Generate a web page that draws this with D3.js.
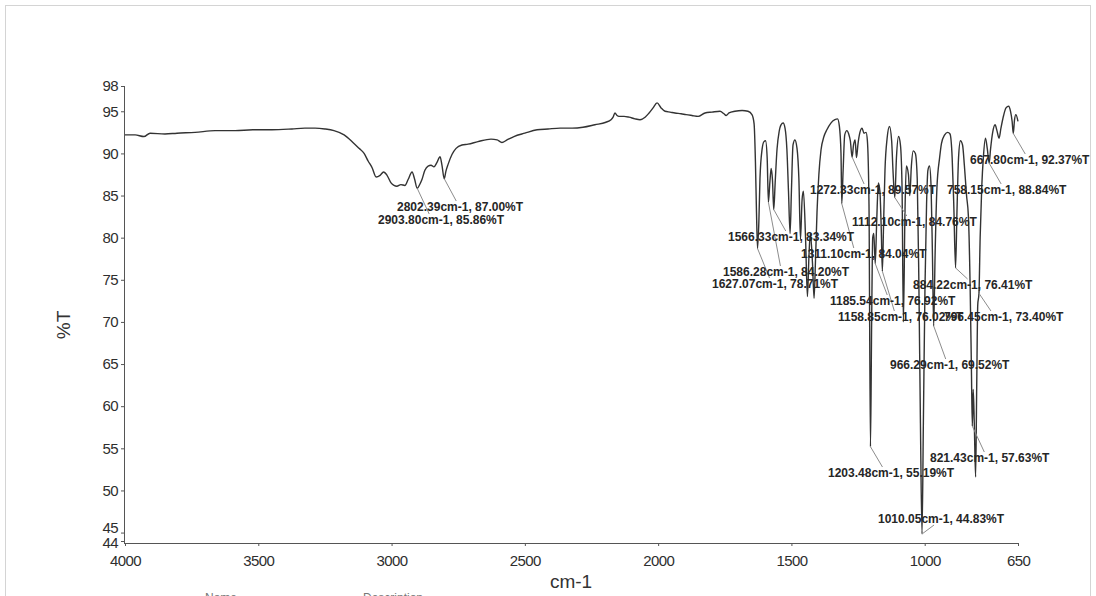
<!DOCTYPE html>
<html>
<head>
<meta charset="utf-8">
<script src="https://cdn.jsdelivr.net/npm/d3@7"></script>
<style>
  html, body { margin: 0; padding: 0; background: #fff; }
  svg { display: block; font-family: "Liberation Sans", Arial, sans-serif; }
</style>
</head>
<body>
<svg id="chart" width="1096" height="596"></svg>
<script>
// Peak-picked bands: wavenumber (cm-1) and transmittance (%T)
const peakWn = [2903.80, 2802.39, 1627.07, 1586.28, 1566.33, 1311.10, 1272.33, 1203.48, 1185.54,
                1158.85, 1112.10, 1010.05, 966.29, 884.22, 821.43, 796.45, 758.15, 667.80];
const peakT  = [85.86, 87.00, 78.71, 84.20, 83.34, 84.04, 89.57, 55.19, 76.92,
                76.02, 84.76, 44.83, 69.52, 76.41, 57.63, 73.40, 88.84, 92.37];

// Spectrum trace, 4000–1650 cm-1: [wavenumber, %T]
const spectrumHigh = [
  [4000,92.2],[3962,92.2],[3929,92.0],[3906,92.4],[3850,92.3],[3805,92.4],[3737,92.5],[3662,92.7],
  [3587,92.7],[3520,92.8],[3449,92.8],[3374,92.9],[3325,93.0],[3287,93.0],[3250,92.9],[3216,92.7],
  [3178,92.2],[3145,91.3],[3122,90.6],[3103,90.0],[3088,89.1],[3073,88.3],[3058,87.2],[3043,87.4],
  [3030,87.8],[3017,87.4],[3002,86.5],[2991,86.2],[2980,86.1],[2965,86.3],[2950,86.2],[2938,86.9],
  [2923,87.8],[2914,87.0],[2893,86.4],[2886,86.9],[2875,88.0],[2863,88.5],[2852,88.6],[2841,88.4],
  [2830,88.9],[2818,89.6],[2811,88.6],[2796,87.9],[2788,88.7],[2773,89.9],[2758,90.6],[2736,91.0],
  [2713,91.1],[2676,91.4],[2627,91.7],[2604,91.6],[2586,91.3],[2567,91.6],[2541,92.0],[2500,92.4],
  [2454,92.8],[2413,92.9],[2368,93.0],[2323,93.0],[2282,93.1],[2237,93.4],[2196,93.7],[2177,94.0],
  [2169,94.3],[2162,94.8],[2154,94.5],[2147,94.4],[2128,94.4],[2109,94.3],[2087,94.1],[2068,94.0],
  [2049,94.3],[2034,94.8],[2019,95.4],[2004,96.0],[1989,95.4],[1974,95.0],[1955,94.9],[1937,94.8],
  [1914,94.7],[1895,94.6],[1873,94.5],[1850,94.4],[1824,94.8],[1798,94.9],[1768,95.0],[1753,94.7],
  [1745,94.5],[1734,94.8],[1712,95.0],[1685,95.1],[1663,95.0],[1648,94.6]
];

// Spectrum trace, fingerprint region 1640–650 cm-1: [wavenumber, %T]
const spectrumLow = [
  [1640,93.5],[1635,89.0],[1631,83.0],[1622,82.0],[1618,87.0],[1610,90.5],[1603,91.4],[1597,91.5],
  [1591,89.5],[1581,86.5],[1576,88.2],[1571,86.8],[1561,86.5],[1554,90.5],[1546,92.6],[1539,93.4],
  [1531,93.6],[1524,93.0],[1517,90.5],[1511,85.5],[1505,80.5],[1500,85.5],[1494,91.0],[1487,91.6],
  [1479,90.6],[1472,87.0],[1466,79.8],[1460,84.5],[1455,85.5],[1447,80.0],[1440,73.0],[1434,78.0],
  [1429,80.5],[1421,77.0],[1415,72.8],[1410,77.0],[1404,83.0],[1397,87.5],[1389,90.4],[1378,92.0],
  [1367,92.8],[1352,93.6],[1337,94.0],[1327,94.1],[1320,93.2],[1314,90.0],[1306,88.0],[1300,92.2],
  [1292,92.7],[1285,92.3],[1279,91.5],[1267,91.0],[1261,91.6],[1256,89.5],[1250,91.2],[1243,92.5],
  [1235,93.0],[1228,92.4],[1220,92.5],[1215,91.5],[1209,84.0],[1199,70.0],[1195,80.0],[1191,80.5],
  [1180,82.0],[1174,86.5],[1168,85.5],[1163,81.0],[1154,82.0],[1149,88.0],[1141,91.8],[1132,93.2],
  [1124,91.5],[1119,88.0],[1106,89.5],[1098,92.0],[1091,91.0],[1085,86.0],[1080,70.0],[1074,83.0],
  [1069,88.5],[1061,87.5],[1056,85.0],[1050,88.5],[1043,90.3],[1035,90.0],[1028,87.0],[1022,75.0],
  [1016,58.0],[1005,58.0],[999,74.0],[993,84.0],[988,88.0],[982,88.5],[976,86.0],[971,78.0],
  [961,78.0],[954,86.0],[944,89.5],[937,91.2],[925,92.2],[914,92.5],[905,92.3],[897,89.5],
  [891,84.0],[879,83.0],[873,89.5],[866,91.5],[858,91.0],[851,88.5],[843,85.0],[836,82.5],
  [830,75.0],[825,65.0],[818,62.0],[814,58.0],[809,51.6],[805,62.0],[801,72.0],[792,80.0],
  [786,86.0],[780,89.5],[772,91.8],[765,90.5],[753,90.5],[745,92.5],[736,93.4],[729,92.7],
  [721,91.8],[714,93.0],[704,94.5],[695,95.4],[685,95.6],[678,95.0],[672,93.8],[663,94.0],
  [658,94.6],[650,93.8]
];

// Axis ticks
const xTicks = [4000, 3500, 3000, 2500, 2000, 1500, 1000, 650];
const yTicks = [98, 95, 90, 85, 80, 75, 70, 65, 60, 55, 50, 45, 44];

// Where each peak label sits (left, baseline), same order as peakWn
const labelXY = [
  [378,224],[397,211],[712,288],[723,276],[728,241],[801,258],[810,194],[828,477],[830,305],
  [838,321],[852,226],[878,523],[890,369],[913,289],[930,462],[944,321],[947,194],[970,164]
];

const svg = d3.select("#chart");
const x = d3.scaleLinear().domain([4000, 650]).range([125, 1018]);
const y = d3.scaleLinear().domain([44, 98]).range([541, 86]);
const axisY = 543;

// light frame around the plot page
svg.append("rect")
  .attr("x", 5.5).attr("y", 5.5).attr("width", 1085).attr("height", 620)
  .attr("fill", "none").attr("stroke", "#d4d4d4").attr("stroke-width", 1);

// y axis
const gy = svg.append("g").attr("transform", "translate(124,0)")
  .call(d3.axisLeft(y).tickValues(yTicks).tickSize(3).tickPadding(3).tickSizeOuter(0));
gy.select(".domain").remove();
gy.selectAll(".tick line").attr("stroke", "#555");
gy.selectAll(".tick text")
  .attr("font-size", 15).attr("letter-spacing", "-0.6px").attr("fill", "#2e2e2e")
  .attr("font-family", "'Liberation Sans', Arial, sans-serif")
  .attr("y", d => d === 45 ? -5 : (d === 44 ? 2 : 0));
svg.append("line").attr("x1", 124.5).attr("x2", 124.5).attr("y1", y(98)).attr("y2", axisY)
  .attr("stroke", "#555");

// x axis
const gx = svg.append("g").attr("transform", `translate(0,${axisY})`)
  .call(d3.axisBottom(x).tickValues(xTicks).tickSize(3).tickPadding(9).tickSizeOuter(0)
        .tickFormat(d3.format("d")));
gx.select(".domain").remove();
gx.selectAll(".tick line").attr("stroke", "#555");
gx.selectAll(".tick text")
  .attr("font-size", 15).attr("letter-spacing", "-0.6px").attr("fill", "#2e2e2e")
  .attr("font-family", "'Liberation Sans', Arial, sans-serif");
svg.append("line").attr("x1", 124).attr("x2", x(650)).attr("y1", axisY + 0.5).attr("y2", axisY + 0.5)
  .attr("stroke", "#555");

// axis titles
svg.append("text").attr("transform", "translate(70,325) rotate(-90)")
  .attr("text-anchor", "middle").attr("font-size", 19).attr("fill", "#333").text("%T");
svg.append("text").attr("x", 571).attr("y", 588)
  .attr("text-anchor", "middle").attr("font-size", 19).attr("fill", "#333").text("cm-1");

// table header under the plot (runs off the bottom of the page)
svg.append("text").attr("x", 205).attr("y", 602).attr("font-size", 12).attr("fill", "#777").text("Name");
svg.append("text").attr("x", 363).attr("y", 602).attr("font-size", 12).attr("fill", "#777").text("Description");

// spectrum
const peaks = peakWn.map((w, i) => [w, peakT[i]]);
const points = spectrumHigh.concat(spectrumLow, peaks).sort((a, b) => b[0] - a[0]);
const line = d3.line().x(d => x(d[0])).y(d => y(d[1])).curve(d3.curveMonotoneX);
svg.append("path").datum(points)
  .attr("d", line).attr("fill", "none").attr("stroke", "#333").attr("stroke-width", 1.4)
  .attr("stroke-linejoin", "round");

// peak labels with leader lines
const gl = svg.append("g");
peaks.forEach((p, i) => {
  const [lx, ly] = labelXY[i];
  const txt = `${p[0].toFixed(2)}cm-1, ${p[1].toFixed(2)}%T`;
  const t = gl.append("text").attr("x", lx).attr("y", ly)
    .attr("font-size", 12).attr("font-weight", "bold").attr("fill", "#262626").text(txt);
  const w = t.node().getComputedTextLength();
  const px = x(p[0]), py = y(p[1]);
  const top = ly - 10, bottom = ly + 2;
  const ex = Math.max(lx + 4, Math.min(lx + w - 4, px + 12));
  const ey = py < top ? top : bottom;
  gl.insert("line", "text")
    .attr("x1", px).attr("y1", py).attr("x2", ex).attr("y2", ey)
    .attr("stroke", "#8c8c8c").attr("stroke-width", 1);
});
</script>
</body>
</html>
